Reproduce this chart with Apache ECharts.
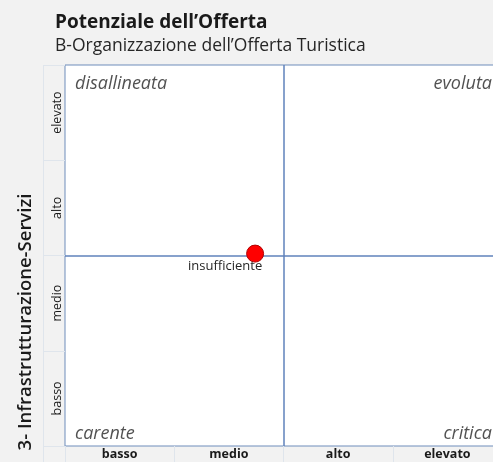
<!doctype html>
<html>
<head>
<meta charset="utf-8">
<title>Potenziale dell'Offerta</title>
<script src="https://cdn.jsdelivr.net/npm/echarts@6/dist/echarts.min.js"></script>
<style>
    html,body{
        margin: 0;
        padding: 0;
        width: 100%;
        height: 100%;
        background: #f2f2f2;
    }
    #chart{
        width: 493px;
        height: 462px;
    }
</style>
</head>
<body>
    <div id="chart"></div>
</body>
<script>
    // livelli sugli assi
    var livelli = ['basso', 'medio', 'alto', 'elevato'];
    // quadranti: [x, y, nome]
    var quadranti = [[0, 4, 'disallineata'], [4, 4, 'evoluta'], [0, 0, 'carente'], [4, 0, 'critica']];
    // posizione della destinazione
    var punto = [[1.74, 2.02, 'insufficiente']];
    var soglia = 2;

    var font = '"Open Sans", sans-serif';
    var bordo = '#6f8dbb';
    var fascia = '#dfe5ec';

    var chart = echarts.init(document.getElementById('chart'));

    var option = {
        backgroundColor: '#f2f2f2',
        animation: false,
        title: {
            text: 'Potenziale dell\u2019Offerta',
            subtext: 'B-Organizzazione dell\u2019Offerta Turistica',
            left: 50,
            top: 8,
            itemGap: 5,
            textStyle: { fontFamily: font, fontSize: 19, fontWeight: 'bold', color: '#1a1a1a' },
            subtextStyle: { fontFamily: font, fontSize: 17.5, color: '#262626' }
        },
        grid: {
            left: 65,
            top: 65,
            width: 437,
            height: 381,
            outerBoundsMode: 'none',
            show: true,
            backgroundColor: '#fff',
            borderColor: bordo,
            borderWidth: 1
        },
        xAxis: [{
            type: 'value',
            min: 0, max: 4, interval: 1,
            axisLine: { show: false },
            axisTick: { show: false },
            axisLabel: { show: false },
            splitLine: { show: false }
        }, {
            type: 'category',
            data: livelli,
            position: 'bottom',
            axisLine: { show: false },
            axisTick: { show: true, length: 16, lineStyle: { color: fascia } },
            axisLabel: { margin: 2, fontFamily: font, fontSize: 12.5, fontWeight: 'bold', color: '#1a1a1a' },
            splitLine: { show: false }
        }],
        yAxis: [{
            type: 'value',
            min: 0, max: 4, interval: 1,
            axisLine: { show: false },
            axisTick: { show: false },
            axisLabel: { show: false },
            splitLine: { show: false }
        }, {
            type: 'category',
            data: livelli,
            position: 'left',
            axisLine: { show: false },
            axisTick: { show: true, length: 22, lineStyle: { color: fascia } },
            axisLabel: { rotate: 90, margin: 1, fontFamily: font, fontSize: 12.5, color: '#1a1a1a' },
            splitLine: { show: false }
        }],
        graphic: [{
            type: 'line',
            shape: { x1: 43.5, y1: 65, x2: 43.5, y2: 462 },
            style: { stroke: fascia, lineWidth: 1 },
            z: 0
        }, {
            type: 'line',
            shape: { x1: 43, y1: 65.5, x2: 65, y2: 65.5 },
            style: { stroke: fascia, lineWidth: 1 },
            z: 0
        }, {
            type: 'text',
            x: 26,
            y: 322,
            rotation: Math.PI / 2,
            style: {
                text: '3- Infrastrutturazione-Servizi',
                fontFamily: font,
                fontSize: 18.5,
                fontWeight: 600,
                fill: '#1a1a1a',
                align: 'center',
                verticalAlign: 'middle'
            }
        }],
        series: [{
            name: 'quadranti',
            type: 'scatter',
            symbolSize: 0,
            silent: true,
            data: quadranti,
            label: {
                show: true,
                formatter: function (p) { return p.data[2]; },
                fontFamily: font,
                fontSize: 18,
                fontStyle: 'italic',
                color: '#262626',
                position: function (p) { return [0, 0]; }
            },
            labelLayout: function (params) {
                var d = quadranti[params.dataIndex];
                var w = params.labelRect.width, h = params.labelRect.height;
                var x = d[0] === 0 ? params.rect.x + 10 : params.rect.x - 10 - w;
                var y = d[1] === 4 ? params.rect.y + 10 : params.rect.y - 3 - h;
                return { x: x, y: y };
            },
            markLine: {
                silent: true,
                symbol: 'none',
                label: { show: false },
                lineStyle: { color: '#5f82bb', width: 1.5, type: 'solid', opacity: 1 },
                emphasis: { disabled: true },
                data: [{ xAxis: soglia }, { yAxis: soglia }]
            }
        }, {
            name: 'destinazione',
            type: 'scatter',
            symbol: 'circle',
            symbolSize: 17,
            data: punto,
            itemStyle: { color: '#ff0000', borderColor: '#b00000', borderWidth: 1, opacity: 1 },
            label: {
                show: true,
                formatter: function (p) { return p.data[2]; },
                position: 'bottom',
                offset: [-30, -8],
                fontFamily: font,
                fontSize: 13,
                color: '#262626'
            },
            z: 5
        }]
    };

    chart.setOption(option);
</script>
</html>
